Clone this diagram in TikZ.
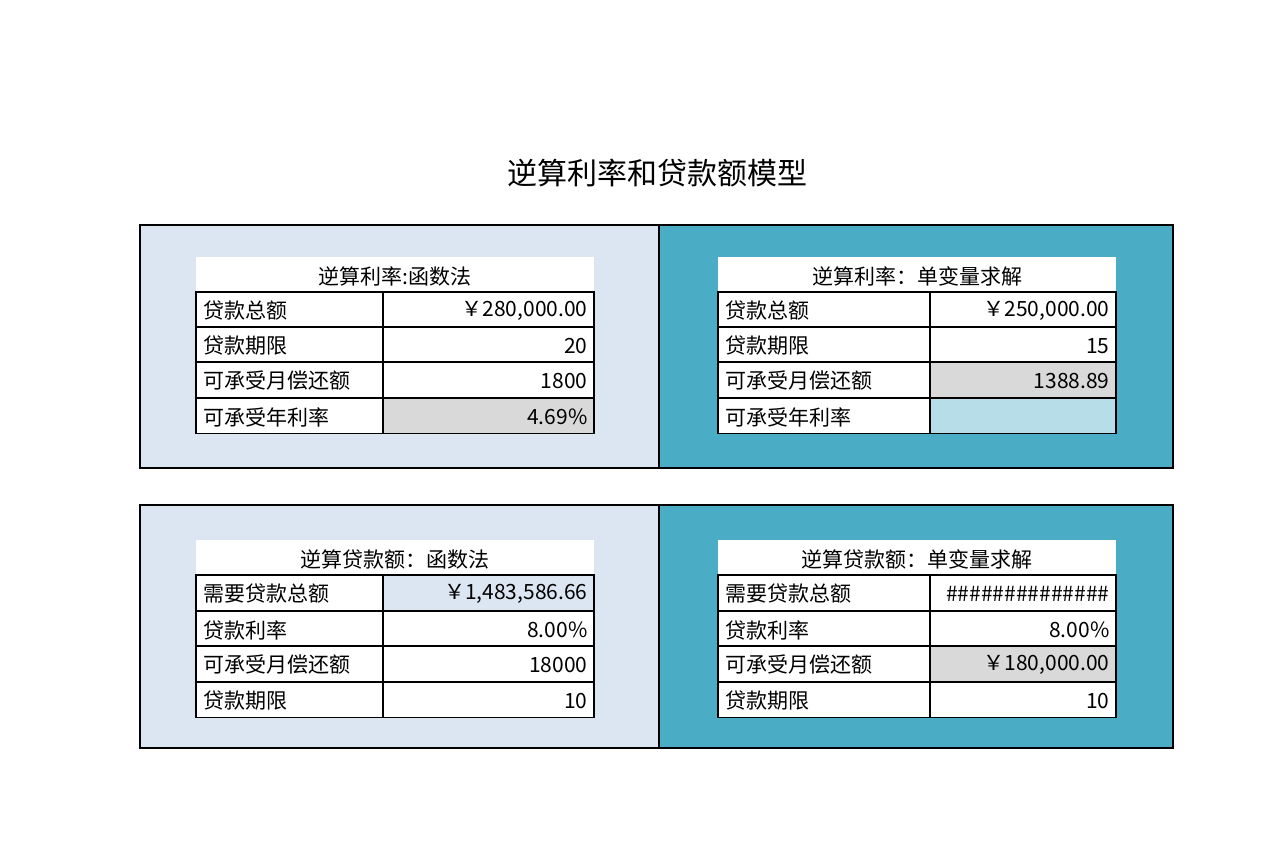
\documentclass[tikz,border=0pt]{standalone}
\usepackage{fontspec}
\setmainfont{Noto Sans CJK SC}
\definecolor{lightp}{HTML}{DCE6F2}
\definecolor{tealp}{HTML}{4BACC6}
\definecolor{grayc}{HTML}{D9D9D9}
\definecolor{cyanc}{HTML}{B7DEE8}
\definecolor{bluec}{HTML}{DCE6F2}
\begin{document}
\begin{tikzpicture}[x=1pt,y=-1pt,
 panel/.style={draw=black,line width=1.5pt},
 cell/.style={draw=black,line width=1.3pt,inner sep=0pt},
 lab/.style={font=\fontsize{21}{21}\selectfont,anchor=west},
 val/.style={font=\fontsize{21}{21}\selectfont,anchor=east},
 ttl/.style={font=\fontsize{21}{21}\selectfont}]
\useasboundingbox (0,0) rectangle (1280,862);
\node[font=\fontsize{30}{30}\selectfont] (title) at (657,173) {逆算利率和贷款额模型};
% panels
\foreach \y/\n in {225/t,505/b}{
 \fill[lightp] (140,\y) rectangle (659,\y+243);
 \fill[tealp] (659,\y) rectangle (1173,\y+243);
 \draw[panel] (140,\y) rectangle (1173,\y+243);
 \draw[panel] (659,\y) -- (659,\y+243);
}
% table macro
\newcommand\mytable[9]{%
 % #1 x left, #2 x split, #3 x right, #4 y title top, #5 title, #6 name
 \fill[white] (#1,#4) rectangle (#3,#4+35);
 \node[ttl] (#6t) at ({(#1+#3)/2},#4+19) {#5};
}
% generic cell drawing
\newcommand\row[8]{% xl, xs, xr, ytop, label, value, fill, name
 \filldraw[cell,fill=white] (#1,#4) rectangle (#2,#4+35.5);
 \filldraw[cell,fill=#7] (#2,#4) rectangle (#3,#4+35.5);
 \node[lab] (#8l) at (#1+4,#4+19) {#5};
 \node[val] (#8v) at (#3-3,#4+19) {#6};
}
% top-left
\mytable{196}{383}{594}{257}{逆算利率:函数法}{tl}{}{}{}
\row{196}{383}{594}{292}{贷款总额}{￥280,000.00}{white}{tla}
\row{196}{383}{594}{327}{贷款期限}{20}{white}{tlb}
\row{196}{383}{594}{362}{可承受月偿还额}{1800}{white}{tlc}
\row{196}{383}{594}{398}{可承受年利率}{4.69\%}{grayc}{tld}
% top-right
\mytable{718}{930}{1116}{257}{逆算利率：单变量求解}{tr}{}{}{}
\row{718}{930}{1116}{292}{贷款总额}{￥250,000.00}{white}{tra}
\row{718}{930}{1116}{327}{贷款期限}{15}{white}{trb}
\row{718}{930}{1116}{362}{可承受月偿还额}{1388.89\hspace{10pt}}{grayc}{trc}
\row{718}{930}{1116}{398}{可承受年利率}{}{cyanc}{trd}
% bottom-left
\mytable{196}{383}{594}{540}{逆算贷款额：函数法}{bl}{}{}{}
\row{196}{383}{594}{575}{需要贷款总额}{￥1,483,586.66}{bluec}{bla}
\row{196}{383}{594}{611}{贷款利率}{8.00\%}{white}{blb}
\row{196}{383}{594}{646}{可承受月偿还额}{18000}{white}{blc}
\row{196}{383}{594}{682}{贷款期限}{10}{white}{bld}
% bottom-right
\mytable{718}{930}{1116}{540}{逆算贷款额：单变量求解}{br}{}{}{}
\row{718}{930}{1116}{575}{需要贷款总额}{\#\#\#\#\#\#\#\#\#\#\#\#\#\#}{white}{bra}
\row{718}{930}{1116}{611}{贷款利率}{8.00\%}{white}{brb}
\row{718}{930}{1116}{646}{可承受月偿还额}{￥180,000.00}{grayc}{brc}
\row{718}{930}{1116}{682}{贷款期限}{10}{white}{brd}
\end{tikzpicture}
\end{document}
